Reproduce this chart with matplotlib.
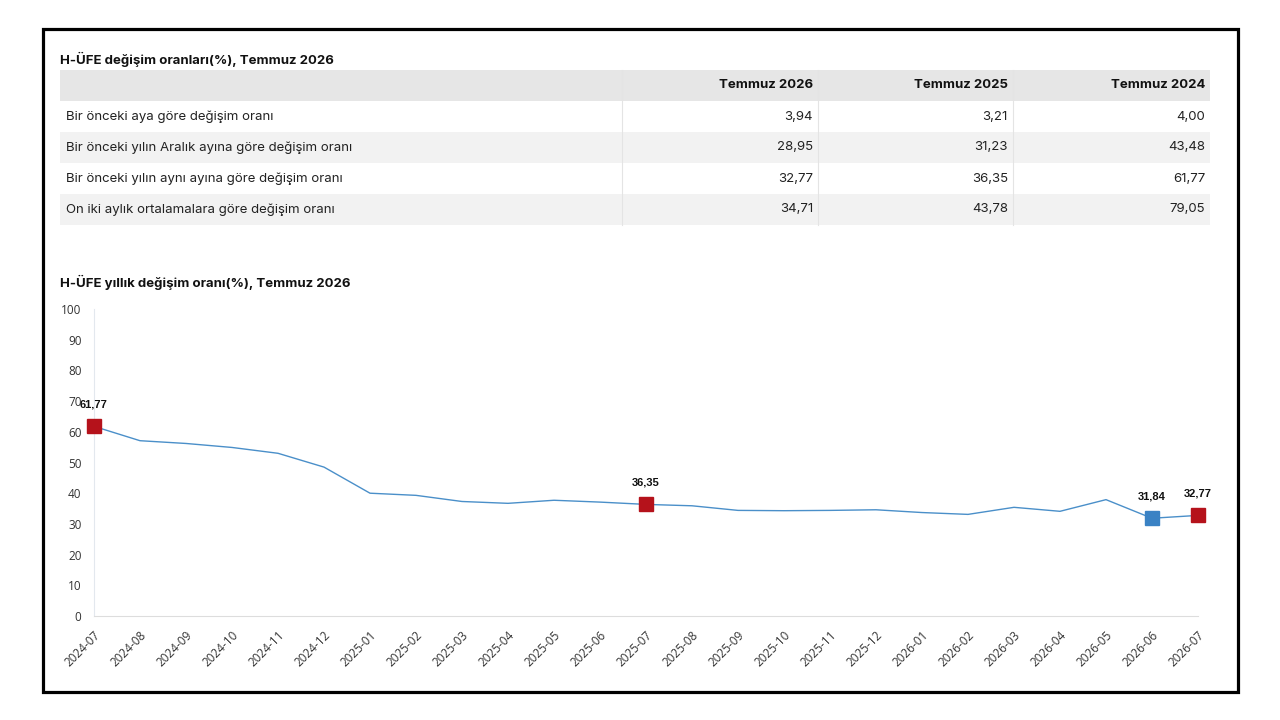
import numpy as np
import pandas as pd
import matplotlib
matplotlib.use("Agg")
from matplotlib import pyplot as plt
from matplotlib.patches import Rectangle

# table data
table_title = "H-ÜFE değişim oranları(%), Temmuz 2026"
col_headers = ["Temmuz 2026", "Temmuz 2025", "Temmuz 2024"]
row_labels = [
    "Bir önceki aya göre değişim oranı",
    "Bir önceki yılın Aralık ayına göre değişim oranı",
    "Bir önceki yılın aynı ayına göre değişim oranı",
    "On iki aylık ortalamalara göre değişim oranı",
]
temmuz_2026 = ["3,94", "28,95", "32,77", "34,71"]
temmuz_2025 = ["3,21", "31,23", "36,35", "43,78"]
temmuz_2024 = ["4,00", "43,48", "61,77", "79,05"]

# chart data
chart_title = "H-ÜFE yıllık değişim oranı(%), Temmuz 2026"
months = [str(p) for p in pd.period_range("2024-07", "2026-07", freq="M")]
yearly_change = [61.77, 57.1, 56.2, 54.9, 53.0, 48.5, 40.0, 39.3, 37.3, 36.7,
                 37.7, 37.1, 36.35, 35.9, 34.4, 34.3, 34.4, 34.6, 33.7, 33.1,
                 35.4, 34.1, 37.9, 31.84, 32.77]
red_points = ["2024-07", "2025-07", "2026-07"]
blue_points = ["2026-06"]
y_ticks = list(range(0, 101, 10))

W, H = 1280, 720
fig = plt.figure(figsize=(12.8, 7.2), dpi=100)
fig.patch.set_facecolor("white")

# overlay axes in pixel coordinates for frame and table
bg = fig.add_axes([0, 0, 1, 1])
bg.set_xlim(0, W)
bg.set_ylim(H, 0)
bg.axis("off")

bg.add_patch(Rectangle((43, 29), 1195, 663, fill=False, edgecolor="black", linewidth=2.3))

tfont = "Inter"
bg.text(60, 59, table_title, fontsize=9.5, fontweight="bold", family=tfont,
        va="center", ha="left", color="#111111")

col_edges = [60, 622, 818, 1013, 1210]
row_top = 70
row_h = 31
columns = [temmuz_2026, temmuz_2025, temmuz_2024]

# header
bg.add_patch(Rectangle((col_edges[0], row_top), col_edges[-1] - col_edges[0], row_h,
                       facecolor="#e6e6e6", edgecolor="none"))
for j, head in enumerate(col_headers):
    bg.text(col_edges[j + 2] - 5, row_top + row_h / 2, head, fontsize=9.5,
            fontweight="bold", family=tfont, ha="right", va="center", color="#111111")

for i, label in enumerate(row_labels):
    top = row_top + row_h * (i + 1)
    face = "#f2f2f2" if i % 2 == 1 else "white"
    bg.add_patch(Rectangle((col_edges[0], top), col_edges[-1] - col_edges[0], row_h,
                           facecolor=face, edgecolor="none"))
    bg.text(col_edges[0] + 6, top + row_h / 2, label, fontsize=9.5, family=tfont,
            ha="left", va="center", color="#222222")
    for j, col in enumerate(columns):
        bg.text(col_edges[j + 2] - 5, top + row_h / 2, col[i], fontsize=9.5,
                family=tfont, ha="right", va="center", color="#222222")

bottom = row_top + row_h * (len(row_labels) + 1)
for x in col_edges[1:-1]:
    bg.plot([x, x], [row_top, bottom], color="#e4e4e4", linewidth=0.8)

bg.text(60, 282, chart_title, fontsize=9.5, fontweight="bold", family=tfont,
        va="center", ha="left", color="#111111")

# line chart
ax = fig.add_axes([94 / W, (H - 616) / H, (1198 - 94) / W, (616 - 309) / H])
x = np.arange(len(months))
ax.plot(x, yearly_change, color="#4a8fc9", linewidth=1.0, zorder=2)

for name, color in [(m, "#b5121b") for m in red_points] + [(m, "#3a82c4") for m in blue_points]:
    k = months.index(name)
    ax.plot(x[k], yearly_change[k], marker="s", markersize=9.5, color=color,
            markeredgecolor=color, zorder=3, linestyle="none", clip_on=False)
    ax.annotate(f"{yearly_change[k]:.2f}".replace(".", ","), (x[k], yearly_change[k]),
                xytext=(0, 12), textcoords="offset points", ha="center", va="bottom",
                fontsize=8, fontweight="bold", family="Liberation Sans", color="#111111",
                annotation_clip=False)

ax.set_xlim(0, len(months) - 1)
ax.set_ylim(0, 100)
ax.set_yticks(y_ticks)
ax.set_xticks(x)
ax.set_xticklabels(months, rotation=45, ha="right", rotation_mode="anchor",
                   family="Open Sans", fontsize=8.5, color="#333333")
for lbl in ax.get_yticklabels():
    lbl.set_family("Open Sans")
    lbl.set_fontsize(8.5)
    lbl.set_color("#333333")
ax.tick_params(axis="both", length=0)
ax.tick_params(axis="y", pad=9)
ax.tick_params(axis="x", pad=9)
for s in ["top", "right"]:
    ax.spines[s].set_visible(False)
ax.spines["left"].set_color("#e3e8ee")
ax.spines["bottom"].set_color("#dddddd")
ax.set_facecolor("none")
ax.margins(0)

fig.savefig("out.png", dpi=100)
